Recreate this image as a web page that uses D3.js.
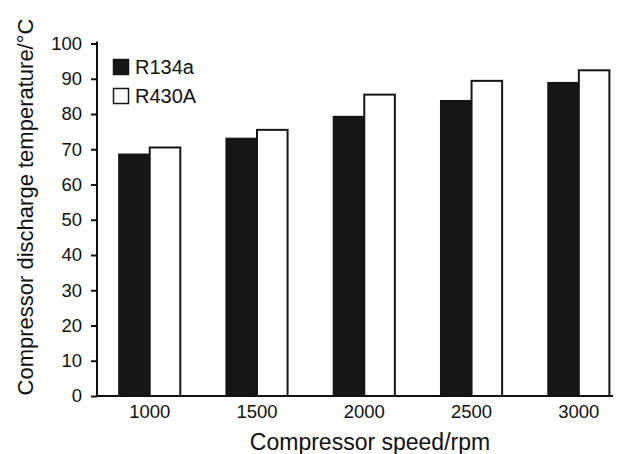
<!DOCTYPE html>
<html>
<head>
<meta charset="utf-8">
<script src="https://cdn.jsdelivr.net/npm/d3@7"></script>
<style>
  html, body { margin: 0; padding: 0; background: #fff; }
  svg { display: block; font-family: "Liberation Sans", Arial, sans-serif; }
</style>
</head>
<body>
<svg id="chart" width="636" height="454"></svg>
<script>
// Compressor speeds (rpm) along the x axis
const speeds = ["1000", "1500", "2000", "2500", "3000"];
// Refrigerant series
const refrigerants = ["R134a", "R430A"];
// Discharge temperature (°C) for each speed
const r134aTemps = [68.5, 73.0, 79.2, 83.7, 88.8];
const r430aTemps = [70.5, 75.5, 85.5, 89.4, 92.4];
// Y axis ticks
const yTicks = [0, 10, 20, 30, 40, 50, 60, 70, 80, 90, 100];

const seriesValues = [r134aTemps, r430aTemps];
const fills = ["#161616", "#ffffff"];

const svg = d3.select("#chart");
const margin = { left: 97, right: 23, top: 43.5, bottom: 58 };
const W = 636, H = 454;
const font = "Liberation Sans, Arial, sans-serif";

const x = d3.scaleBand()
  .domain(speeds)
  .range([margin.left, W - margin.right])
  .paddingInner(0.43)
  .paddingOuter(0.12)
  .align(0.86);

const xSub = d3.scaleBand()
  .domain(refrigerants)
  .range([0, x.bandwidth()]);

const y = d3.scaleLinear()
  .domain([0, 100])
  .range([H - margin.bottom, margin.top]);

// Bars
const groups = svg.append("g")
  .selectAll("g")
  .data(speeds)
  .join("g")
  .attr("transform", d => `translate(${x(d)},0)`);

groups.selectAll("rect")
  .data((d, i) => refrigerants.map((r, k) => ({ r, k, v: seriesValues[k][i] })))
  .join("rect")
  .attr("x", d => xSub(d.r))
  .attr("y", d => y(d.v))
  .attr("width", xSub.bandwidth())
  .attr("height", d => y(0) - y(d.v))
  .attr("fill", d => fills[d.k])
  .attr("stroke", "#161616")
  .attr("stroke-width", 2);

// Y axis
const yAxis = svg.append("g")
  .attr("transform", `translate(${margin.left},0)`)
  .call(d3.axisLeft(y).tickValues(yTicks).tickSize(6).tickPadding(9).tickSizeOuter(0));
yAxis.select(".domain").attr("stroke", "#111").attr("stroke-width", 2)
  .attr("d", `M0,${y(100) - 2}V${y(0)}`);
yAxis.selectAll(".tick line").attr("stroke", "#111").attr("stroke-width", 2);
yAxis.selectAll(".tick text")
  .attr("font-size", 18.5).attr("fill", "#111")
  .attr("font-family", font);

// X axis
const xAxis = svg.append("g")
  .attr("transform", `translate(0,${y(0)})`)
  .call(d3.axisBottom(x).tickSize(0).tickPadding(9));
xAxis.select(".domain").attr("stroke", "#111").attr("stroke-width", 2)
  .attr("d", `M${margin.left},0H${W - margin.right}`);
xAxis.selectAll(".tick text")
  .attr("font-size", 18.5).attr("fill", "#111")
  .attr("font-family", font);

// Axis titles
svg.append("text")
  .attr("x", 370).attr("y", 450)
  .attr("text-anchor", "middle")
  .attr("font-size", 23).attr("fill", "#111")
  .text("Compressor speed/rpm");

svg.append("text")
  .attr("transform", "translate(33,207) rotate(-90)")
  .attr("text-anchor", "middle")
  .attr("font-size", 22).attr("fill", "#111")
  .text("Compressor discharge temperature/°C");

// Legend
const legend = svg.append("g")
  .selectAll("g")
  .data(refrigerants)
  .join("g")
  .attr("transform", (d, i) => `translate(113.5,${59.5 + i * 29})`);
legend.append("rect")
  .attr("width", 15).attr("height", 15)
  .attr("fill", (d, i) => fills[i])
  .attr("stroke", "#161616").attr("stroke-width", 1.5);
legend.append("text")
  .attr("x", 21.5).attr("y", 14)
  .attr("font-size", 20).attr("fill", "#111")
  .text(d => d);
</script>
</body>
</html>
